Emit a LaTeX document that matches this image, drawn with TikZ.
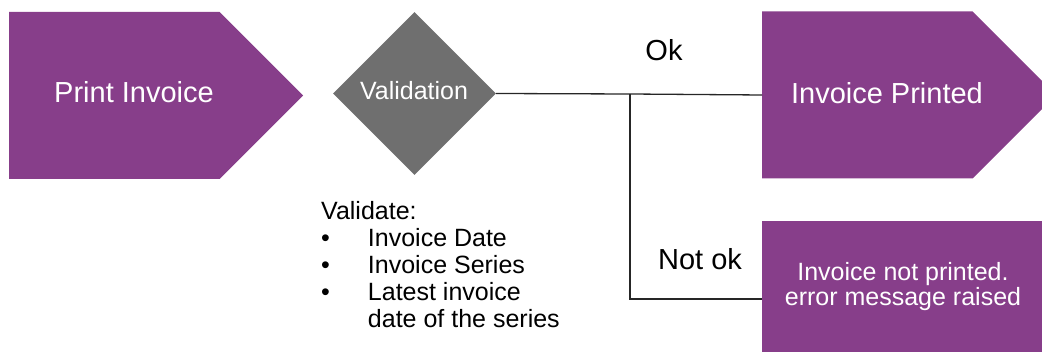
\documentclass[tikz,border=0pt]{standalone}
\usepackage{fontspec}
\setmainfont{Liberation Sans}
\usetikzlibrary{shapes.geometric,shapes.symbols}
\definecolor{flowpurple}{RGB}{135,62,138}
\definecolor{flowgray}{RGB}{111,111,111}

\begin{document}
\begin{tikzpicture}[x=1pt, y=-1pt,
    eventbox/.style={signal, signal to=east, fill=flowpurple, draw=none,
        minimum width=294pt, minimum height=167pt, inner sep=0pt, anchor=west},
    wire/.style={line width=1.3pt, black!85},
    bigtxt/.style={font=\fontsize{29}{34}\selectfont},
    smalltxt/.style={font=\fontsize{25}{27}\selectfont}
]
    \useasboundingbox (0,0) rectangle (1042,352);
    \clip (0,0) rectangle (1042,352);

    % Events and decision
    \node[eventbox] (print) at (9,95.5) {};
    \node[eventbox] (printed) at (762,95) {};
    \node[diamond, fill=flowgray, minimum width=163pt, minimum height=163pt,
          inner sep=0pt] (val) at (414.5,93.5) {};
    \node[rectangle, fill=flowpurple, minimum width=280pt, minimum height=131pt,
          inner sep=0pt, anchor=north west] (failbox) at (762,221) {};

    % Labels in the shapes
    \node[bigtxt, text=white] (printlbl) at (134,92.5) {Print Invoice};
    \node[bigtxt, text=white] (printedlbl) at (887,93) {Invoice Printed};
    \node[smalltxt, text=white] (vallbl) at (414,91) {Validation};
    \node[smalltxt, text=white, align=center, font=\fontsize{25}{25}\selectfont]
        (faillbl) at (903,287) {Invoice not printed.\\error message raised};

    % Connectors
    \coordinate (split) at (630,94);
    \coordinate (failin) at (762,299);
    \draw[wire] (val.east) -- (split) -- (printed.west);
    \draw[wire] (split) |- (failin);

    % Branch labels
    \node[bigtxt] (oklbl) at (664,50) {Ok};
    \node[bigtxt] (notoklbl) at (700,259) {Not ok};

    % What is validated
    \node[smalltxt, inner sep=0pt, anchor=base west] (checks) at (321,220) {%
        \begin{tabular}[t]{@{}l@{\hspace{38pt}}l@{}}
            \multicolumn{2}{@{}l}{Validate:}\\
            \textbullet & Invoice Date\\
            \textbullet & Invoice Series\\
            \textbullet & Latest invoice\\
                        & date of the series
        \end{tabular}};

\end{tikzpicture}
\end{document}
